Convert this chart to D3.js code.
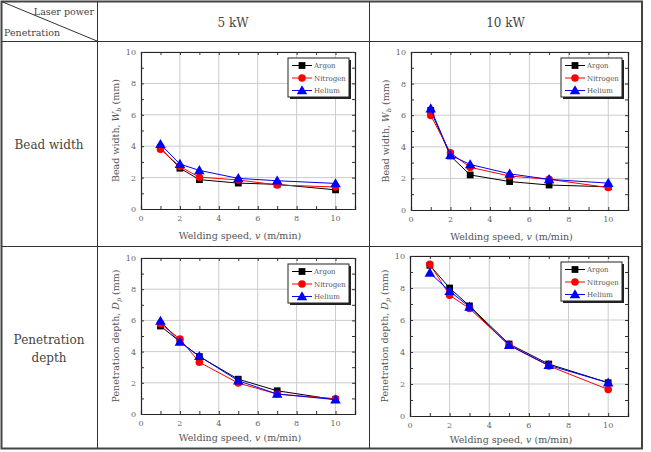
<!DOCTYPE html>
<html>
<head>
<meta charset="utf-8">
<script src="https://cdn.jsdelivr.net/npm/d3@7"></script>
<style>
  body { margin: 0; background: #fff; }
</style>
</head>
<body>
<div id="chart-area"></div>
<script>
// data
var speeds = [1, 2, 3, 5, 7, 10];
var gases = ["Argon", "Nitrogen", "Helium"];
var xTicks = [0, 2, 4, 6, 8, 10];
var yTicks = [0, 2, 4, 6, 8, 10];

var bead5Argon    = [3.9, 2.6, 1.87, 1.65, 1.57, 1.22];
var bead5Nitrogen = [3.8, 2.7, 2.03, 1.85, 1.53, 1.4];
var bead5Helium   = [4.13, 2.86, 2.46, 1.95, 1.8, 1.63];

var bead10Argon    = [6.3, 3.42, 2.22, 1.8, 1.58, 1.47];
var bead10Nitrogen = [5.98, 3.62, 2.7, 2.15, 1.94, 1.42];
var bead10Helium   = [6.42, 3.47, 2.88, 2.29, 1.94, 1.7];

var pen5Argon    = [5.64, 4.64, 3.68, 2.23, 1.49, 0.92];
var pen5Nitrogen = [5.79, 4.81, 3.32, 1.98, 1.28, 0.98];
var pen5Helium   = [5.96, 4.62, 3.7, 2.13, 1.28, 0.92];

var pen10Argon    = [9.42, 8.0, 6.88, 4.5, 3.25, 2.08];
var pen10Nitrogen = [9.48, 7.55, 6.72, 4.42, 3.13, 1.66];
var pen10Helium   = [8.95, 7.8, 6.82, 4.42, 3.17, 2.08];

var colors = {Argon: "#000000", Nitrogen: "#ff0000", Helium: "#0000ff"};

var width = 651, height = 452;
var svg = d3.select("#chart-area").append("svg")
    .attr("width", width)
    .attr("height", height)
    .attr("font-family", "'DejaVu Serif', 'Liberation Serif', serif");

// ---- table ----
var tl = 1.5, tr = 642, tt = 1.5, tb = 448.5;
var col1 = 97, col2 = 369, row1 = 41, row2 = 246;

svg.append("rect")
    .attr("x", tl).attr("y", tt)
    .attr("width", tr - tl).attr("height", tb - tt)
    .attr("fill", "none").attr("stroke", "#444").attr("stroke-width", 2);

function hline(y) {
    svg.append("line").attr("x1", tl).attr("x2", tr).attr("y1", y).attr("y2", y)
        .attr("stroke", "#333").attr("stroke-width", 1);
}
function vline(x) {
    svg.append("line").attr("x1", x).attr("x2", x).attr("y1", tt).attr("y2", tb)
        .attr("stroke", "#333").attr("stroke-width", 1);
}
hline(row1 + 0.5);
hline(row2 + 0.5);
vline(col1 + 0.5);
vline(col2 + 0.5);

svg.append("line")
    .attr("x1", tl).attr("y1", tt).attr("x2", col1).attr("y2", row1)
    .attr("stroke", "#333").attr("stroke-width", 1);

svg.append("text").attr("x", 94).attr("y", 15)
    .attr("text-anchor", "end").attr("font-size", "9.5px").attr("fill", "#444")
    .text("Laser power");
svg.append("text").attr("x", 4).attr("y", 36)
    .attr("font-size", "9.5px").attr("fill", "#444")
    .text("Penetration");

svg.append("text").attr("x", (col1 + col2) / 2).attr("y", 27)
    .attr("text-anchor", "middle").attr("font-size", "12px").attr("fill", "#444")
    .text("5 kW");
svg.append("text").attr("x", (col2 + tr) / 2).attr("y", 27)
    .attr("text-anchor", "middle").attr("font-size", "12px").attr("fill", "#444")
    .text("10 kW");

svg.append("text").attr("x", 49).attr("y", 149)
    .attr("text-anchor", "middle").attr("font-size", "12px").attr("fill", "#444")
    .text("Bead width");
svg.append("text").attr("x", 49).attr("y", 344)
    .attr("text-anchor", "middle").attr("font-size", "12px").attr("fill", "#444")
    .text("Penetration");
svg.append("text").attr("x", 49).attr("y", 362)
    .attr("text-anchor", "middle").attr("font-size", "12px").attr("fill", "#444")
    .text("depth");

// ---- panels ----
function drawPanel(p) {
    var x = d3.scaleLinear().domain([0, 11]).range([p.left, p.right]);
    var y = d3.scaleLinear().domain([0, 10]).range([p.bottom, p.top]);
    var g = svg.append("g");

    // grid
    g.selectAll(".gx").data(xTicks.slice(1)).enter().append("line")
        .attr("x1", d => x(d)).attr("x2", d => x(d))
        .attr("y1", p.top).attr("y2", p.bottom)
        .attr("stroke", "#ccc").attr("stroke-width", 1);
    g.selectAll(".gy").data(yTicks.slice(1)).enter().append("line")
        .attr("x1", p.left).attr("x2", p.right)
        .attr("y1", d => y(d)).attr("y2", d => y(d))
        .attr("stroke", "#ccc").attr("stroke-width", 1);

    // axes, ticks inward on all sides
    var bottomAxis = d3.axisBottom(x).tickValues(d3.range(0, 12)).tickSize(-3).tickFormat("");
    var topAxis = d3.axisTop(x).tickValues(d3.range(0, 12)).tickSize(-3).tickFormat("");
    var leftAxis = d3.axisLeft(y).tickValues(d3.range(0, 11)).tickSize(-3).tickFormat("");
    var rightAxis = d3.axisRight(y).tickValues(d3.range(0, 11)).tickSize(-3).tickFormat("");
    var axes = [
        g.append("g").attr("transform", "translate(0," + p.bottom + ")").call(bottomAxis),
        g.append("g").attr("transform", "translate(0," + p.top + ")").call(topAxis),
        g.append("g").attr("transform", "translate(" + p.left + ",0)").call(leftAxis),
        g.append("g").attr("transform", "translate(" + p.right + ",0)").call(rightAxis)
    ];
    axes.forEach(a => {
        a.select(".domain").attr("stroke", "#222").attr("stroke-width", 1.2);
        a.selectAll(".tick line").attr("stroke", "#333");
    });

    // tick labels
    g.selectAll(".xl").data(xTicks).enter().append("text")
        .attr("x", d => x(d)).attr("y", p.bottom + 12)
        .attr("text-anchor", "middle").attr("font-size", "8px").attr("fill", "#666")
        .text(d => d);
    g.selectAll(".yl").data(yTicks).enter().append("text")
        .attr("x", p.left - 5).attr("y", d => y(d) + 3)
        .attr("text-anchor", "end").attr("font-size", "8px").attr("fill", "#666")
        .text(d => d);

    // axis titles
    var xt = g.append("text")
        .attr("x", (p.left + p.right) / 2 - 8).attr("y", p.bottom + p.xlabelGap)
        .attr("text-anchor", "middle").attr("font-size", "9.5px").attr("fill", "#555");
    xt.append("tspan").text("Welding speed, ");
    xt.append("tspan").attr("font-style", "italic").text("v");
    xt.append("tspan").text(" (m/min)");

    var yt = g.append("text")
        .attr("transform", "translate(" + (p.left - 22) + "," + ((p.top + p.bottom) / 2) + ") rotate(-90)")
        .attr("text-anchor", "middle").attr("font-size", "9.5px").attr("fill", "#555");
    yt.append("tspan").text(p.ylabel + ", ");
    yt.append("tspan").attr("font-style", "italic").text(p.sym);
    yt.append("tspan").attr("font-style", "italic").attr("font-size", "6.5px").attr("dy", 2).text(p.sub);
    yt.append("tspan").attr("dy", -2).text(" (mm)");

    // series
    var line = d3.line().x((d, i) => x(speeds[i])).y(d => y(d));
    gases.forEach((gas, k) => {
        var vals = p.series[k];
        var c = colors[gas];
        g.append("path").datum(vals).attr("d", line)
            .attr("fill", "none").attr("stroke", c).attr("stroke-width", 1);
        drawMarkers(g, gas, vals.map((v, i) => [x(speeds[i]), y(v)]), c);
    });

    // legend
    var lw = 61, lh = 39;
    var lx = p.right - 6 - lw, ly = p.top + 6;
    g.append("rect").attr("x", lx + 2).attr("y", ly + 2).attr("width", lw).attr("height", lh)
        .attr("fill", "#222");
    g.append("rect").attr("x", lx).attr("y", ly).attr("width", lw).attr("height", lh)
        .attr("fill", "#fff").attr("stroke", "#222").attr("stroke-width", 1);
    gases.forEach((gas, k) => {
        var yy = ly + 7.5 + k * 12.5;
        var c = colors[gas];
        g.append("line").attr("x1", lx + 4).attr("x2", lx + 24).attr("y1", yy).attr("y2", yy)
            .attr("stroke", c).attr("stroke-width", 1);
        drawMarkers(g, gas, [[lx + 14, yy]], c);
        g.append("text").attr("x", lx + 26).attr("y", yy + 2.5)
            .attr("font-size", "7px").attr("fill", "#555").text(gas);
    });
}

function drawMarkers(g, gas, pts, c) {
    var type = gas === "Argon" ? d3.symbolSquare : gas === "Nitrogen" ? d3.symbolCircle : d3.symbolTriangle;
    var size = gas === "Argon" ? 46 : gas === "Nitrogen" ? 44 : 48;
    g.selectAll(null).data(pts).enter().append("path")
        .attr("d", d3.symbol().type(type).size(size))
        .attr("transform", d => "translate(" + d[0] + "," + (d[1] + (gas === "Helium" ? 0.8 : 0)) + ")")
        .attr("fill", c);
}

drawPanel({left: 141, right: 355, top: 52, bottom: 209, xlabelGap: 30,
    ylabel: "Bead width", sym: "W", sub: "b",
    series: [bead5Argon, bead5Nitrogen, bead5Helium]});
drawPanel({left: 411, right: 628, top: 52, bottom: 210, xlabelGap: 30,
    ylabel: "Bead width", sym: "W", sub: "b",
    series: [bead10Argon, bead10Nitrogen, bead10Helium]});
drawPanel({left: 141, right: 355, top: 258, bottom: 414, xlabelGap: 27,
    ylabel: "Penetration depth", sym: "D", sub: "p",
    series: [pen5Argon, pen5Nitrogen, pen5Helium]});
drawPanel({left: 410, right: 628, top: 256, bottom: 416, xlabelGap: 27,
    ylabel: "Penetration depth", sym: "D", sub: "p",
    series: [pen10Argon, pen10Nitrogen, pen10Helium]});
</script>
</body>
</html>
